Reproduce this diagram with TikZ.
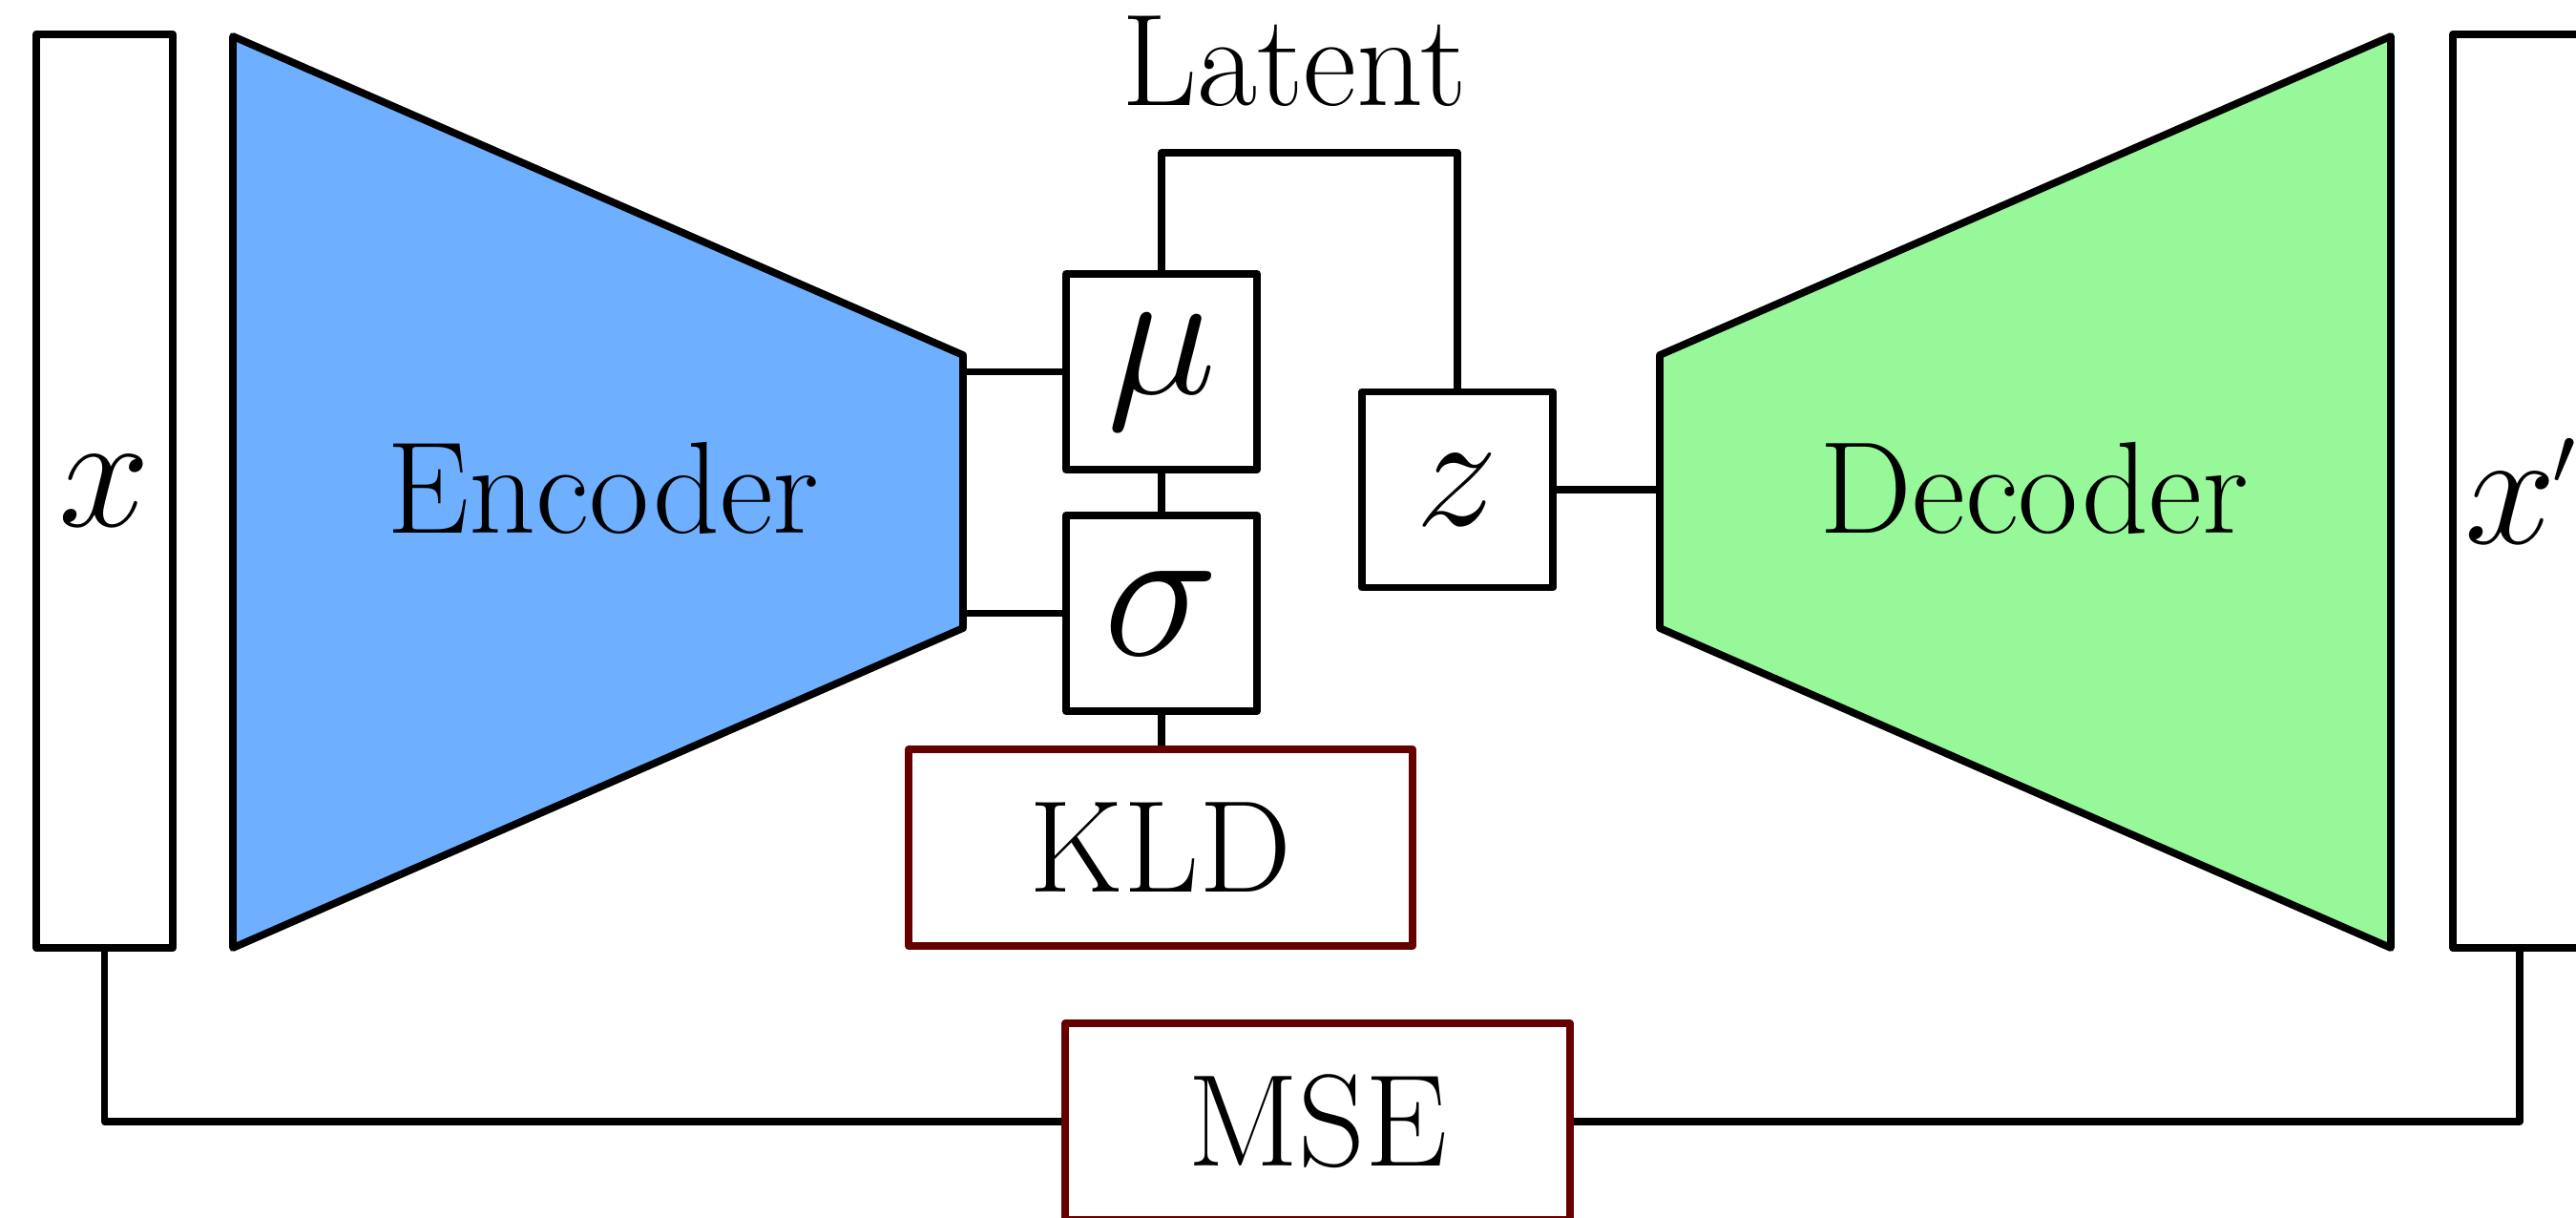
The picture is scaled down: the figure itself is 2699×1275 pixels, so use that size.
\RequirePackage{fix-cm}
\documentclass[tikz,border=0pt]{standalone}
\usepackage{amsmath}
\definecolor{encblue}{RGB}{110,176,255}
\definecolor{decgreen}{RGB}{150,248,152}
\definecolor{lossred}{RGB}{102,0,0}
\newcommand{\symsize}[1]{\fontsize{#1}{#1}\selectfont}
\begin{document}
\begin{tikzpicture}[x=0.01cm, y=-0.01cm,
  every path/.style={line width=2.2pt, line join=round},
  lbl/.style={font=\fontsize{39}{44}\selectfont},
  box/.style={draw, line width=2.2pt, fill=white, inner sep=0pt, lbl},
  databox/.style={box, minimum width=1.43cm, minimum height=9.57cm},
  varbox/.style={box, minimum width=2cm, minimum height=2.05cm},
  lossbox/.style={box, draw=lossred, minimum width=5.28cm, minimum height=2.06cm}]
\useasboundingbox (0,0) rectangle (2699,1275);

% encoder and decoder bodies
\draw[fill=encblue] (244,38) -- (1009,372) -- (1009,658) -- (244,993) -- cycle;
\draw[fill=decgreen] (1739,372) -- (2505,38) -- (2505,993) -- (1739,658) -- cycle;
\node[lbl] (enc) at (632,511) {Encoder};
\node[lbl] (dec) at (2131,511) {Decoder};
\coordinate (encR) at (1009,515);
\coordinate (decL) at (1739,515);

% data boxes
\node[databox] (x)  at (109.5,514.5) {\symsize{49}$x$};
\node[databox] (xp) at (2641.5,514.5) {\symsize{49}$x^{\kern-1pt\scriptscriptstyle\prime}$};

% latent variables
\node[varbox] (mu)    at (1217,389.5) {\symsize{55}$\mu$};
\node[varbox] (sigma) at (1217,642.5) {\symsize{58}$\sigma$};
\node[varbox] (z)     at (1527,513) {\symsize{49}$z$};

% losses
\node[lossbox] (kld) at (1216,888) {KLD};
\node[lossbox] (mse) at (1380.5,1175) {MSE};

\node[lbl] (latent) at (1356,64) {Latent};

% connectors
\draw (mu.west) -- (mu.west -| encR);
\draw (sigma.west) -- (sigma.west -| encR);
\draw (mu.south) -- (sigma.north);
\draw (sigma.south) -- (kld.north -| sigma.south);
\draw (mu.north) -- ++(0,-123) -| (z.north);
\draw (z.east) -- (z.east -| decL);
\draw (x.south) |- (mse.west);
\draw (xp.south -| 2640,0) |- (mse.east);
\end{tikzpicture}
\end{document}
